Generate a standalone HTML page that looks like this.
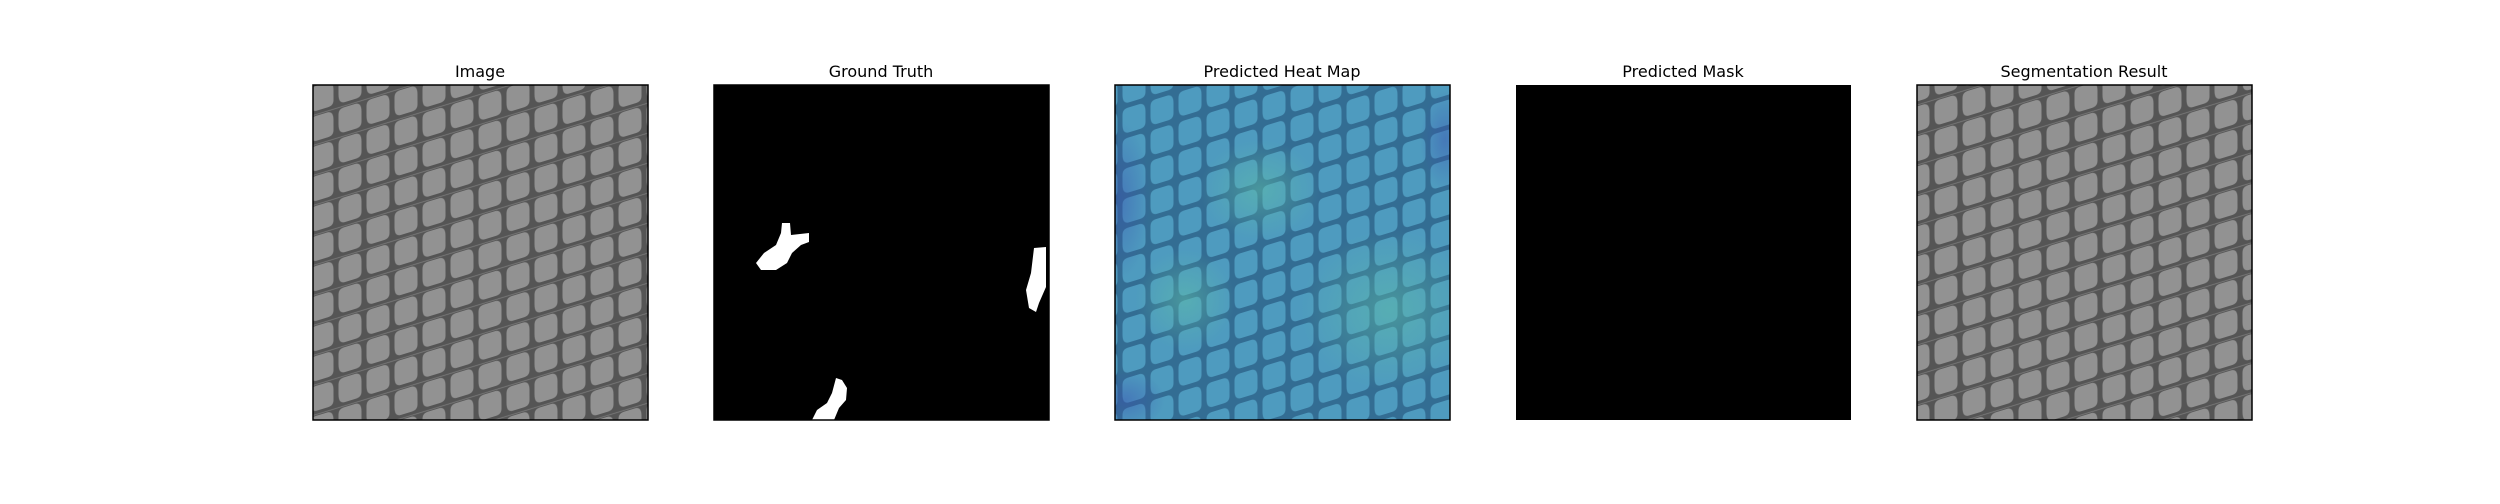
<!DOCTYPE html>
<html><head><meta charset="utf-8">
<style>
html,body{margin:0;padding:0;background:#fff;}
body{width:2500px;height:500px;position:relative;overflow:hidden;font-family:"DejaVu Sans","Liberation Sans",sans-serif;}
</style></head>
<body>
<svg width="2500" height="500" viewBox="0 0 2500 500" xmlns="http://www.w3.org/2000/svg">
<defs>
  <pattern id="mesh" width="28" height="30" patternUnits="userSpaceOnUse" patternTransform="skewY(-17)">
    <rect width="28" height="30" fill="#555"/>
    <path d="M2.5,8 Q2.5,2.5 8,2.5 L19,2.5 Q25.5,2.5 25.5,12 L25.5,22 Q25.5,27.5 20,27.5 L9,27.5 Q2.5,27.5 2.5,18 Z" fill="#929292"/>
    <line x1="0" y1="1.2" x2="28" y2="1.2" stroke="#7a7a7a" stroke-width="0.8"/>
  </pattern>
  <pattern id="meshHeat" width="28" height="30" patternUnits="userSpaceOnUse" patternTransform="skewY(-17)">
    <rect width="28" height="30" fill="#336d93"/>
    <path d="M2.5,8 Q2.5,2.5 8,2.5 L19,2.5 Q25.5,2.5 25.5,12 L25.5,22 Q25.5,27.5 20,27.5 L9,27.5 Q2.5,27.5 2.5,18 Z" fill="#4e9bbf"/>
  </pattern>
  <radialGradient id="hot1" cx="0.5" cy="0.5" r="0.5">
    <stop offset="0" stop-color="#5fc0a8" stop-opacity="0.5"/>
    <stop offset="1" stop-color="#5fc0a8" stop-opacity="0"/>
  </radialGradient>
  <radialGradient id="cold1" cx="0.5" cy="0.5" r="0.5">
    <stop offset="0" stop-color="#3a4fb0" stop-opacity="0.45"/>
    <stop offset="1" stop-color="#3a4fb0" stop-opacity="0"/>
  </radialGradient>
  <clipPath id="heatClip"><rect x="1115" y="85" width="335" height="335"/></clipPath>
</defs>

<g font-size="16" fill="#000" text-anchor="middle">
  <text x="480" y="77">Image</text>
  <text x="881" y="77">Ground Truth</text>
  <text x="1282" y="77">Predicted Heat Map</text>
  <text x="1683" y="77">Predicted Mask</text>
  <text x="2084" y="77">Segmentation Result</text>
</g>

<g>
  <rect x="313" y="85" width="335" height="335" fill="url(#mesh)"/>
  <rect x="313" y="85" width="335" height="335" fill="none" stroke="#000" stroke-width="1.5"/>
</g>

<g>
  <rect x="714" y="85" width="335" height="335" fill="#000"/>
  <path fill="#fff" d="M782,223 L790,223 L791,235 L809,233 L809,242 L801,245 L792,253 L787,263 L776,270 L761,270 L756,263 L764,253 L776,245 L781,233 Z"/>
  <path fill="#fff" d="M1034,248 L1046,247 L1046,287 L1039,303 L1036,312 L1029,308 L1026,290 L1031,273 Z"/>
  <path fill="#fff" d="M836,378 L842,380 L847,388 L846,400 L839,408 L834,420 L812,420 L817,410 L827,403 L832,393 Z"/>
  <rect x="714" y="85" width="335" height="335" fill="none" stroke="#000" stroke-width="1.5"/>
</g>

<g>
  <g clip-path="url(#heatClip)">
    <rect x="1115" y="85" width="335" height="335" fill="url(#meshHeat)"/>
    <ellipse cx="1390" cy="310" rx="90" ry="80" fill="url(#hot1)"/>
    <ellipse cx="1185" cy="300" rx="50" ry="50" fill="url(#hot1)"/>
    <ellipse cx="1260" cy="190" rx="60" ry="50" fill="url(#hot1)"/>
    <ellipse cx="1120" cy="200" rx="30" ry="80" fill="url(#cold1)"/>
    <ellipse cx="1445" cy="140" rx="25" ry="50" fill="url(#cold1)"/>
    <ellipse cx="1125" cy="400" rx="40" ry="30" fill="url(#cold1)"/>
  </g>
  <rect x="1115" y="85" width="335" height="335" fill="none" stroke="#000" stroke-width="1.5"/>
</g>

<g>
  <rect x="1516" y="85" width="335" height="335" fill="#000"/>
</g>

<g>
  <rect x="1917" y="85" width="335" height="335" fill="url(#mesh)"/>
  <rect x="1917" y="85" width="335" height="335" fill="none" stroke="#000" stroke-width="1.5"/>
</g>
</svg>
</body></html>
